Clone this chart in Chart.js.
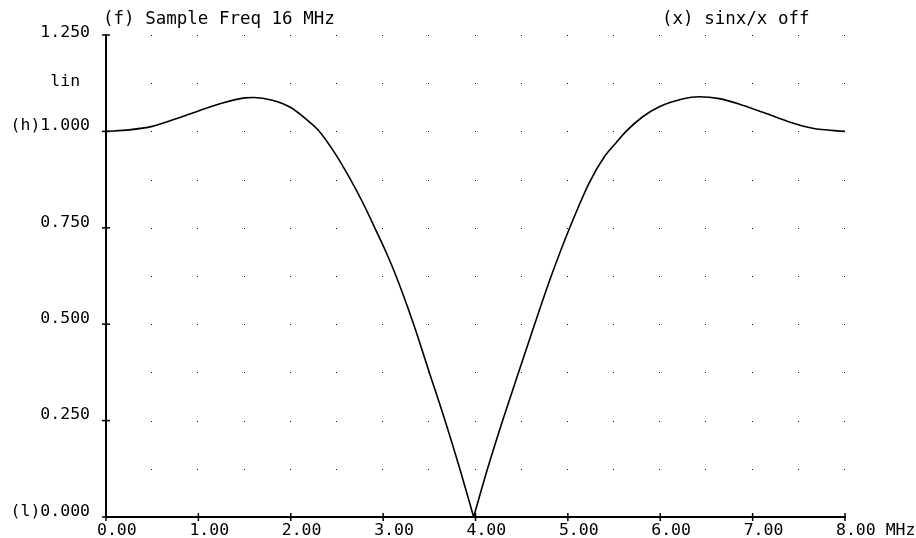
<!DOCTYPE html>
<html>
<head>
<meta charset="utf-8">
<script src="https://cdn.jsdelivr.net/npm/chart.js@4/dist/chart.umd.min.js"></script>
<style>
  html, body { margin: 0; padding: 0; background: #fff; }
  #c { display: block; }
</style>
</head>
<body>
<canvas id="c" width="916" height="538"></canvas>
<script>
// ---- data (one curve; the null at 3.98 MHz is shared by both halves) ----
const freqMHz = [0, 0.25, 0.5, 0.75, 1.0, 1.25, 1.5, 1.6, 1.8, 2.0, 2.17, 2.31, 2.46, 2.64, 2.78, 2.91, 3.03, 3.14, 3.33, 3.50, 3.67, 3.83, 3.98,
                 4.13, 4.30, 4.48, 4.64, 4.82, 5.02, 5.23, 5.40, 5.52, 5.63, 5.81, 5.99, 6.24, 6.42, 6.64, 6.89, 7.14, 7.39, 7.65, 8.0];
const gainLin = [1.000, 1.004, 1.013, 1.032, 1.053, 1.073, 1.087, 1.088, 1.081, 1.062, 1.031, 1.000, 0.950, 0.878, 0.815, 0.750, 0.688, 0.625, 0.500, 0.375, 0.250, 0.125, 0.000,
                 0.125, 0.255, 0.385, 0.500, 0.625, 0.750, 0.866, 0.936, 0.970, 1.000, 1.038, 1.064, 1.084, 1.090, 1.085, 1.068, 1.047, 1.025, 1.008, 1.000];
const nullFreq = 3.98;
const xTickLabels = ['0.00', '1.00', '2.00', '3.00', '4.00', '5.00', '6.00', '7.00', '8.00 MHz'];
const yTickLabels = ['(l)0.000', '', '0.250', '', '0.500', '', '0.750', '', '(h)1.000', 'lin ', '1.250'];
const headerLeft = '(f) Sample Freq 16 MHz';
const headerRight = '(x) sinx/x off';

const MONO = '"DejaVu Sans Mono", "Liberation Mono", monospace';

const points = freqMHz.map((f, i) => ({ x: f, y: gainLin[i] }));
const leftHalf = points.filter(p => p.x <= nullFreq);
const rightHalf = points.filter(p => p.x >= nullFreq);

const decorPlugin = {
  id: 'decor',
  beforeDatasetsDraw(chart) {
    const ctx = chart.ctx, xs = chart.scales.x, ys = chart.scales.y;
    ctx.save();
    ctx.fillStyle = '#111';
    for (let f = 0.5; f <= 8.0001; f += 0.5) {
      for (let v = 0.125; v <= 1.2501; v += 0.125) {
        const px = Math.round(xs.getPixelForValue(f)) - 1;
        const py = Math.round(ys.getPixelForValue(v));
        ctx.fillRect(px, py, 1, 1);
      }
    }
    ctx.restore();
  },
  afterDraw(chart) {
    const ctx = chart.ctx, xs = chart.scales.x, ys = chart.scales.y;
    ctx.save();
    ctx.strokeStyle = '#000';
    ctx.lineWidth = 1.5;
    const x0 = xs.getPixelForValue(0);
    for (let v = 0; v <= 1.2501; v += 0.25) {
      const py = ys.getPixelForValue(v);
      ctx.beginPath(); ctx.moveTo(x0 - 4, py); ctx.lineTo(x0 + 4, py); ctx.stroke();
    }
    const y0 = ys.getPixelForValue(0);
    for (let f = 0; f <= 8; f += 1) {
      const px = xs.getPixelForValue(f);
      ctx.beginPath(); ctx.moveTo(px, y0 - 4); ctx.lineTo(px, y0 + 4); ctx.stroke();
    }
    ctx.fillStyle = '#000';
    ctx.font = '17.5px ' + MONO;
    ctx.textBaseline = 'alphabetic';
    ctx.textAlign = 'left';
    ctx.fillText(headerLeft, 103, 24);
    ctx.fillText(headerRight, 662, 24);
    ctx.restore();
  }
};

const lineStyle = {
  borderColor: '#000',
  borderWidth: 1.6,
  pointRadius: 0,
  cubicInterpolationMode: 'monotone',
  fill: false
};

new Chart(document.getElementById('c'), {
  type: 'line',
  data: {
    datasets: [
      Object.assign({ data: leftHalf }, lineStyle),
      Object.assign({ data: rightHalf }, lineStyle)
    ]
  },
  options: {
    responsive: false,
    animation: false,
    events: [],
    layout: { padding: { top: 35, right: 71, left: 0, bottom: 0 } },
    plugins: { legend: { display: false }, tooltip: { enabled: false }, title: { display: false } },
    scales: {
      x: {
        type: 'linear', min: 0, max: 8,
        grid: { display: false, drawTicks: false },
        border: { display: true, color: '#000', width: 2 },
        ticks: {
          stepSize: 1, autoSkip: false, maxRotation: 0, minRotation: 0,
          align: 'start', labelOffset: -9, padding: 4,
          color: '#000', font: { family: MONO, size: 16.5 },
          callback: (v) => xTickLabels[Math.round(v)] ?? ''
        },
        afterFit: (s) => { s.height = 21; s.paddingLeft = 0; s.paddingRight = 0; }
      },
      y: {
        type: 'linear', min: 0, max: 1.25,
        grid: { display: false, drawTicks: false },
        border: { display: true, color: '#000', width: 2 },
        ticks: {
          stepSize: 0.125, autoSkip: false,
          labelOffset: -5.5, padding: 16,
          color: '#000',
          font: (c) => {
            const i = c.index;
            if (i === 9) return { family: MONO, size: 16.5, lineHeight: '9px' };
            if (i === 10) return { family: MONO, size: 16.5, lineHeight: '7px' };
            return { family: MONO, size: 16.5 };
          },
          callback: (v) => {
            const i = Math.round(v / 0.125);
            const t = yTickLabels[i] ?? '';
            return (i === 9 || i === 10) ? ['', t] : t;
          }
        },
        afterFit: (s) => { s.width = 106; s.paddingTop = 0; s.paddingBottom = 0; }
      }
    }
  },
  plugins: [decorPlugin]
});
</script>
</body>
</html>
